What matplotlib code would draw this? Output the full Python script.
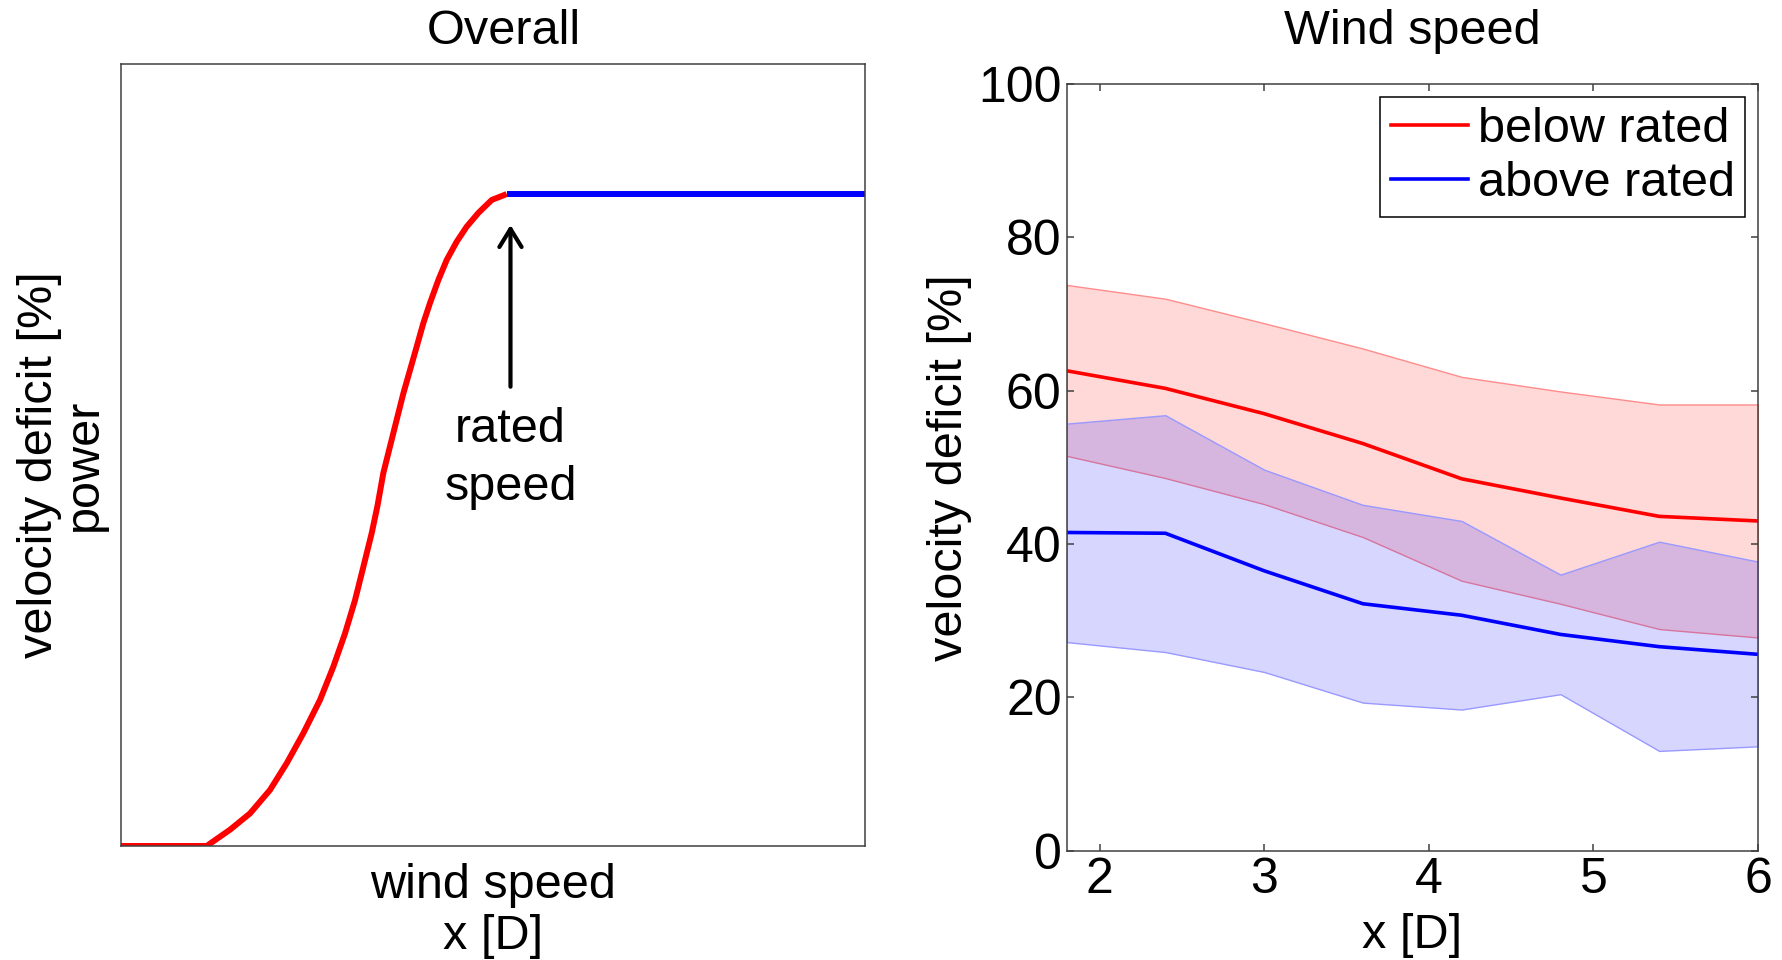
import matplotlib
matplotlib.use("Agg")
import matplotlib.pyplot as plt

plt.rcParams['font.family'] = ['Liberation Sans', 'DejaVu Sans']
plt.rcParams['font.size'] = 35

# ---- schematic power curve (left panel) ----
wind_below = [0.0, 2.893, 3.172, 3.676, 4.347, 5.018, 5.579, 6.136, 6.696, 7.143,
              7.535, 7.871, 8.150, 8.432, 8.626, 8.821, 9.046, 9.271, 9.492, 9.717,
              9.942, 10.164, 10.389, 10.667, 10.949, 11.285, 11.620, 12.010, 12.460, 12.963]
power_below = [0.0, 0.0, 0.009, 0.025, 0.050, 0.086, 0.127, 0.173, 0.224, 0.275,
               0.326, 0.377, 0.428, 0.480, 0.522, 0.572, 0.613, 0.654, 0.694, 0.730,
               0.766, 0.802, 0.833, 0.868, 0.899, 0.927, 0.950, 0.971, 0.991, 1.0]
wind_above = [12.963, 25.0]
power_above = [1.0, 1.0]
rated_speed = 13.09

# ---- velocity deficit vs downstream distance (right panel) ----
x_D = [1.8, 2.4, 3.0, 3.6, 4.2, 4.8, 5.4, 6.0]
below_mean = [62.6, 60.3, 57.0, 53.1, 48.5, 46.0, 43.6, 43.0]
below_upper = [73.8, 72.0, 68.8, 65.5, 61.8, 59.9, 58.2, 58.2]
below_lower = [51.5, 48.6, 45.2, 40.9, 35.2, 32.2, 28.9, 27.8]
above_mean = [41.5, 41.4, 36.5, 32.2, 30.7, 28.2, 26.6, 25.6]
above_upper = [55.7, 56.8, 49.7, 45.1, 43.0, 36.0, 40.3, 37.7]
above_lower = [27.2, 25.9, 23.3, 19.3, 18.4, 20.4, 13.0, 13.6]
x_ticks = [2, 3, 4, 5, 6]
y_ticks = [0, 20, 40, 60, 80, 100]

fig = plt.figure(figsize=(17.83, 9.60), dpi=100)
spine_color = '#404040'

# Left panel
ax1 = fig.add_axes([0.0676, 0.11875, 0.4177, 0.8149])
ax1.plot(wind_below, power_below, color='red', lw=4.3, solid_capstyle='butt',
         solid_joinstyle='round')
ax1.plot(wind_above, power_above, color='blue', lw=4.3, solid_capstyle='butt')
ax1.set_xlim(0, 25)
ax1.set_ylim(0, 1.2)
ax1.set_xticks([])
ax1.set_yticks([])
for s in ax1.spines.values():
    s.set_color(spine_color)
    s.set_linewidth(1.1)
ax1.annotate('', xy=(rated_speed, 0.9526), xytext=(rated_speed, 0.7045),
             arrowprops=dict(arrowstyle='->,head_length=1.3,head_width=0.8',
                             lw=3.0, color='black', shrinkA=0, shrinkB=0,
                             mutation_scale=10))
ax1.text(rated_speed, 0.673, 'rated\nspeed', ha='center', va='top', linespacing=1.36)
ax1.set_title('Overall', fontsize=35, x=0.515, y=1.0252, va='baseline', pad=0)
ax1.set_xlabel('wind speed\nx [D]', va='center', linespacing=1.15)
ax1.xaxis.set_label_coords(0.5, -0.083)
ax1.set_ylabel('velocity deficit [%]\npower', va='center', linespacing=1.0)
ax1.yaxis.set_label_coords((62 - 120.5) / 744.8, 0.487)

# Right panel
ax2 = fig.add_axes([0.5982, 0.1140, 0.3878, 0.7984])
ax2.fill_between(x_D, below_lower, below_upper, facecolor=(1, 0, 0, 0.153),
                 edgecolor=(1, 0.55, 0.55), lw=1.0)
ax2.fill_between(x_D, above_lower, above_upper, facecolor=(0, 0, 1, 0.16),
                 edgecolor=(0.6, 0.6, 1.0), lw=1.0)
ax2.plot(x_D, below_mean, color='red', lw=2.6, label='below rated')
ax2.plot(x_D, above_mean, color='blue', lw=2.6, label='above rated')
ax2.set_xlim(1.8, 6)
ax2.set_ylim(0, 100)
ax2.set_xticks(x_ticks)
ax2.set_yticks(y_ticks)
ax2.tick_params(direction='in', length=5, width=1.1, color=spine_color,
                top=True, right=True, labelsize=36)
ax2.tick_params(axis='y', pad=3.5)
ax2.tick_params(axis='x', pad=4.5)
for s in ax2.spines.values():
    s.set_color(spine_color)
    s.set_linewidth(1.1)
ax2.set_title('Wind speed', fontsize=35, y=1.0523, va='baseline', pad=0)
ax2.set_xlabel('x [D]', va='center')
ax2.xaxis.set_label_coords(0.5, -0.111)
ax2.set_ylabel('velocity deficit [%]', va='center')
ax2.yaxis.set_label_coords(-0.169, 0.5)
leg = ax2.legend(loc='upper right', fancybox=False, framealpha=1,
                 edgecolor='black', handlelength=1.6, handletextpad=0.19,
                 borderpad=0.22, labelspacing=0.18, borderaxespad=0.26)
leg.get_frame().set_linewidth(1.1)

fig.savefig('out.png', dpi=100)
